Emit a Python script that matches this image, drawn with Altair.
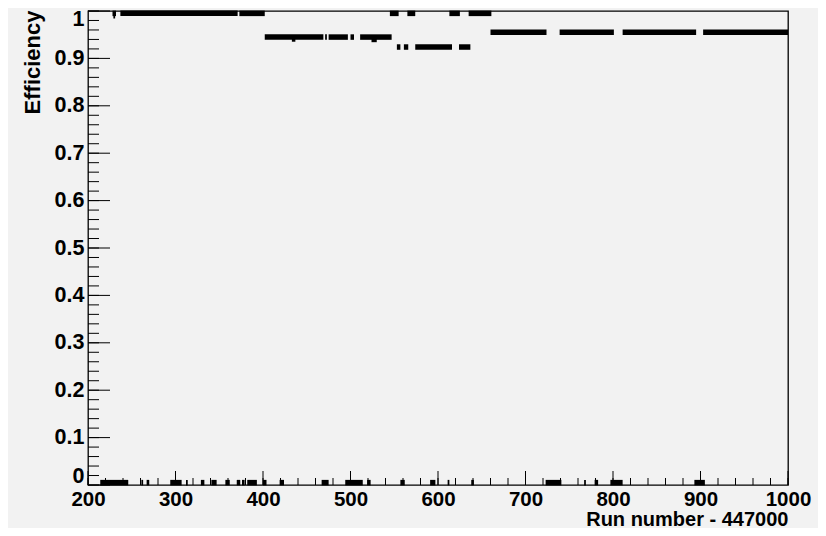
import altair as alt
import pandas as pd

# ---- data: runs (run number - 447000) grouped in contiguous stretches ----
seg_start = [228, 229, 237, 373, 545, 565, 613, 635,
             402, 471, 475, 500, 511, 433, 524,
             553, 561, 574, 624,
             660, 739, 811, 903,
             214, 261, 267, 294, 312, 329, 341, 357, 370, 376, 382, 400, 419,
             467, 494, 519, 557, 591, 611, 638, 723, 767, 779, 797, 893]
seg_end = [232, 231, 371, 402, 555, 574, 625, 661,
           469, 473, 497, 504, 547, 437, 530,
           557, 566, 616, 637,
           724, 801, 895, 1000,
           246, 263, 270, 307, 314, 333, 347, 362, 374, 379, 393, 404, 424,
           475, 514, 523, 562, 597, 613, 641, 741, 769, 783, 811, 905]
seg_eff = [0.995, 0.99, 0.995, 0.995, 0.995, 0.995, 0.995, 0.995,
           0.945, 0.945, 0.945, 0.945, 0.945, 0.941, 0.940,
           0.924, 0.924, 0.924, 0.924,
           0.955, 0.955, 0.955, 0.955] + [0.005] * 25

x_labels = [200, 300, 400, 500, 600, 700, 800, 900, 1000]
x_minor = [200, 220, 240, 260, 280, 300, 320, 340, 360, 380, 400, 420, 440, 460,
           480, 500, 520, 540, 560, 580, 600, 620, 640, 660, 680, 700, 720, 740,
           760, 780, 800, 820, 840, 860, 880, 900, 920, 940, 960, 980, 1000]
y_labels = [0, 0.1, 0.2, 0.3, 0.4, 0.5, 0.6, 0.7, 0.8, 0.9, 1.0]
y_minor = [round(v / 50, 2) for v in range(51)]

seg = pd.DataFrame({"start": seg_start, "end": seg_end, "eff": seg_eff})
xmaj = pd.DataFrame({"t": x_labels})
xmin = pd.DataFrame({"t": x_minor})
ymaj = pd.DataFrame({"t": y_labels})
ymin = pd.DataFrame({"t": y_minor})

W, H = 700, 474
XT = "Run number - 447000"
YT = "Efficiency"
FONT = "Liberation Sans"

xscale = alt.Scale(domain=[200, 1000], nice=False, zero=False)
yscale = alt.Scale(domain=[0, 1], nice=False)

xaxis = alt.Axis(values=x_labels, format="d", ticks=False, domain=False, grid=False,
                 labelFont=FONT, labelFontWeight="bold", labelFontSize=20.5,
                 labelColor="black", labelPadding=4, labelFlush=False,
                 title=XT, titleFont=FONT, titleFontWeight="bold",
                 titleFontSize=20, titleColor="black", titleAnchor="end",
                 titleAlign="right", titleBaseline="alphabetic", titleX=W, titleY=40)
yaxis = alt.Axis(values=y_labels, format="~g", ticks=False, domain=False, grid=False,
                 labelFont=FONT, labelFontWeight="bold", labelFontSize=21.5,
                 labelColor="black", labelPadding=4, labelFlush=False,
                 labelBaseline="middle",
                 labelOffset=alt.ExprRef(expr="datum.value == 1 ? 8 : (datum.value == 0 ? -9 : 0)"),
                 title=YT, titleFont=FONT, titleFontWeight="bold",
                 titleFontSize=22, titleColor="black", titleAngle=-90,
                 titleAlign="right", titleBaseline="alphabetic", titleX=-49, titleY=-1)

points = alt.Chart(seg).mark_rule(strokeWidth=5.5, strokeCap="butt", color="black").encode(
    x=alt.X("start:Q", scale=xscale, axis=xaxis, title=XT),
    x2="end:Q",
    y=alt.Y("eff:Q", scale=yscale, axis=yaxis, title=YT),
)

ytick_major = alt.Chart(ymaj).mark_rule(color="black", strokeWidth=1).encode(
    y=alt.Y("t:Q", scale=yscale, title=YT), x=alt.value(0), x2=alt.value(22))
ytick_minor = alt.Chart(ymin).mark_rule(color="black", strokeWidth=1).encode(
    y=alt.Y("t:Q", scale=yscale, title=YT), x=alt.value(0), x2=alt.value(11))
xtick_major = alt.Chart(xmaj).mark_rule(color="black", strokeWidth=1).encode(
    x=alt.X("t:Q", scale=xscale, title=XT), y=alt.value(H), y2=alt.value(H - 14))
xtick_minor = alt.Chart(xmin).mark_rule(color="black", strokeWidth=1).encode(
    x=alt.X("t:Q", scale=xscale, title=XT), y=alt.value(H), y2=alt.value(H - 7))

chart = alt.layer(points, ytick_major, ytick_minor, xtick_major, xtick_minor).properties(
    width=W, height=H,
    background="#f2f2f2",
    padding={"left": 80, "top": 3, "right": 30, "bottom": 43},
    autosize=alt.AutoSizeParams(type="none"),
).configure_view(stroke="black", strokeWidth=1.3, fill="#f2f2f2")

chart.save("out.html", embed_options={"renderer": "svg", "actions": False})
